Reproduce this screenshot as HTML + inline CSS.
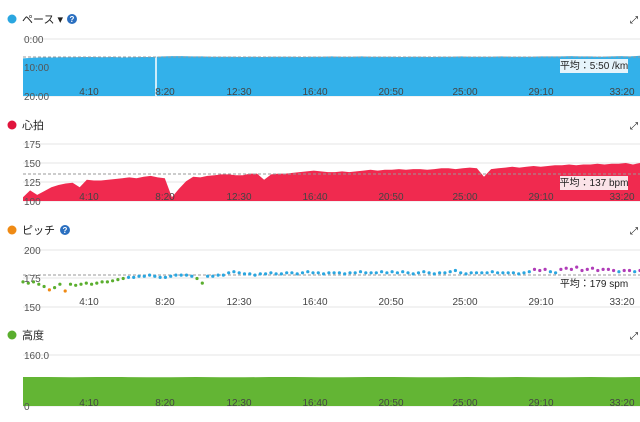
<!DOCTYPE html>
<html><head><meta charset="utf-8"><style>
body{margin:0;width:640px;height:422px;background:#fff;font-family:"Liberation Sans","Noto Sans CJK JP",sans-serif;overflow:hidden;position:relative}
.t{position:absolute;font-size:11px;color:#222}
svg{position:absolute;left:0;top:0}
</style></head><body>
<svg id="s" width="640" height="422"></svg>
<script>
const ticks=["4:10","8:20","12:30","16:40","20:50","25:00","29:10","33:20"];
const paceVals=[6.8,6.6,6.5,6.5,6.4,6.4,6.3,6.3,6.4,6.3,6.5,6.4,6.3,6.3,6.1,6.0,6.0,6.1,6.1,6.2,6.2,6.2,6.3,6.2,6.3,6.2,6.2,6.2,6.3,6.2,6.2,6.1,6.2,6.2,6.1,6.2,6.2,6.2,6.3,6.2,6.2,6.3,6.2,6.2,6.1,6.2,6.2,6.2,6.1,6.2,6.2,6.2,6.1,6.1,6.1,6.0,6.1,6.1,6.2,6.1,6.0,6.1,5.9];
const hrVals=[105,114,108,113,118,121,123,124,118,128,127,127,128,129,130,131,130,132,133,131,130,105,116,126,132,131,133,134,135,135,134,134,136,136,128,135,136,136,137,138,139,140,139,138,138,139,138,139,140,141,140,141,141,142,141,142,142,141,142,143,143,142,143,144,143,132,142,143,144,145,144,145,146,145,146,147,147,148,147,148,148,149,148,149,149,150,148,150];
const pitchVals=[172,171,172,170,168,165,167,170,164,170,169,170,171,170,171,172,172,173,174,175,176,176,177,177,178,177,176,176,177,178,178,178,177,175,171,177,177,178,178,180,181,180,179,179,178,179,179,180,179,179,180,180,179,180,181,180,180,179,180,180,180,179,180,180,181,180,180,180,181,180,181,180,181,180,179,180,181,180,179,180,180,181,182,180,179,180,180,180,180,181,180,180,180,180,179,180,181,183,182,183,181,180,183,184,183,185,182,183,184,182,183,183,182,181,182,182,181,182];
const altVals=[91,91,90,91,91,90,90,91,90,90,91,91,90,90,91,91,90,90,91,90,91,90,90,91,90,91];
const s=document.getElementById('s');const NS='http://www.w3.org/2000/svg';
function el(tag,a,parent){const e=document.createElementNS(NS,tag);for(const k in a)e.setAttribute(k,a[k]);(parent||s).appendChild(e);return e;}
function txt(x,y,str,opt){const e=el('text',Object.assign({x:x,y:y,'font-size':10,fill:'#444'},opt||{}));e.textContent=str;return e;}
const X0=23,X1=640;
function xs(i,n){return X0+(X1-X0)*i/(n-1);}
const tickX=[89,165,239,315,391,465,541,622];
function panel(top,title,color,yTicks,yPos,bottom,help,name){
  el('circle',{cx:12,cy:top,r:4.5,fill:color,});
  const t=txt(22,top+4,title,{'font-size':11,fill:'#222'});
  yPos.forEach((y,i)=>{const g=el('line',{x1:X0,x2:X1,y1:y,y2:y,stroke:'#e6e6e6'});});
  // expand icon
  const ex=el('text',{x:630,y:top+4,'font-size':10,fill:'#111'});ex.textContent='⤢';
}
function yLab(yPos,labels,name){labels.forEach((l,i)=>{const t=txt(24,yPos[i]+4,l,{fill:'#555'});});}
function xLab(y,name){ticks.forEach((l,i)=>{const t=txt(tickX[i],y,l,{'text-anchor':'middle',fill:'#444'});});}
function area(vals,yf,base,color,name){let d='M'+X0+','+base;vals.forEach((v,i)=>d+=' L'+xs(i,vals.length).toFixed(1)+','+yf(v).toFixed(1));d+=' L'+X1+','+base+' Z';const p=el('path',{d:d,fill:color});}
function avg(y,label,bg,name){const l=el('line',{x1:X0,x2:X1,y1:y,y2:y,stroke:'#999','stroke-dasharray':'3,2'});
 if(bg){const r=el('rect',{x:560,y:y+2,width:68,height:14,fill:bg});}
 const t=txt(594,y+12,label,{'text-anchor':'middle',fill:'#222'});}
// Pace
const py=v=>39+v*2.85;
panel(19,'ペース ▾','#2aa6e0',[],[39,67,96],96,true,'pace');
el('circle',{cx:72,cy:19,r:5,fill:'#2a6fc0'});txt(72,22,'?',{'text-anchor':'middle',fill:'#fff','font-size':8,'font-weight':'bold'});
area(paceVals,py,96,'#33b1ea','pace');
el('line',{x1:156,x2:156,y1:55,y2:96,stroke:'#fff','stroke-width':1.5});
yLab([39,67,96],['0:00','10:00','20:00'],'pace');xLab(95,'pace');avg(57,'平均：5:50 /km','#e6f4fb','pace');
// Heart
const hy=v=>201-(v-100)*0.76;
panel(125,'心拍','#e0143c',[],[144,163,182,201],201,false,'heart-rate');
area(hrVals,hy,201,'#f02a4f','heart-rate');
yLab([144,163,182,201],['175','150','125','100'],'heart-rate');xLab(200,'heart-rate');avg(174,'平均：137 bpm','#fbe3e8','heart-rate');
// Pitch
const cy=v=>250+(200-v)*1.14;
panel(230,'ピッチ','#ef8a14',[],[250,278,307],307,true,'cadence');
el('circle',{cx:65,cy:230,r:5,fill:'#2a6fc0'});txt(65,233,'?',{'text-anchor':'middle',fill:'#fff','font-size':8,'font-weight':'bold'});
avg(275,'平均：179 spm',null,'cadence');
pitchVals.forEach((v,i)=>{const c=v<=166?'#ef8a14':(v<176&&i<40?'#5aae2e':(v>=182&&i>95?'#b03cb8':'#2aa6e0'));const p=el('circle',{cx:xs(i,pitchVals.length).toFixed(1),cy:cy(v).toFixed(1),r:1.6,fill:c});});
yLab([250,278,307],['200','175','150'],'cadence');xLab(305,'cadence');
// Altitude
const ay=v=>406-v*(51/160);
panel(335,'高度','#5aae2e',[],[355,406],406,false,'altitude');
area(altVals,ay,406,'#63b534','altitude');
yLab([355,406],['160.0','0'],'altitude');xLab(406,'altitude');
</script>
</body></html>
